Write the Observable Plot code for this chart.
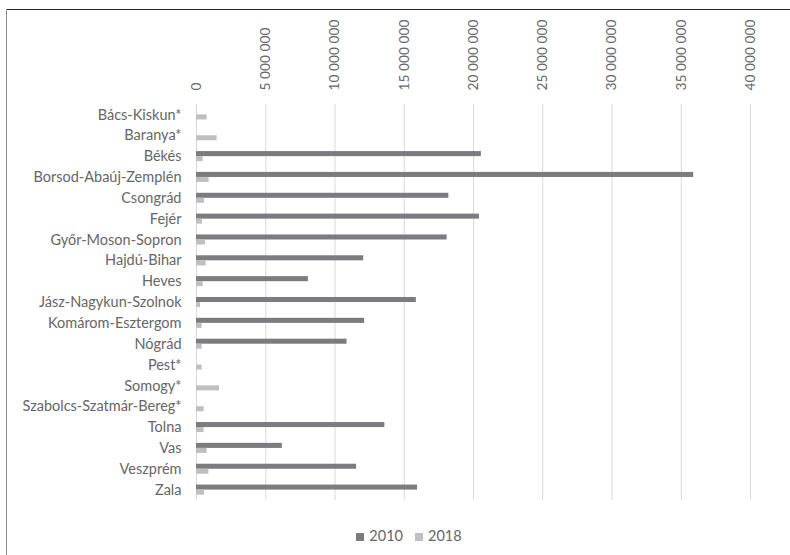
<!DOCTYPE html>
<html><head><meta charset="utf-8">
<script src="https://cdn.jsdelivr.net/npm/d3@7"></script>
<script src="https://cdn.jsdelivr.net/npm/@observablehq/plot@0.6"></script>
<style>
body{margin:0;background:#fff;}
#wrap{position:relative;width:790px;height:555px;overflow:hidden;font-family:Lato,sans-serif;background:#fff;}
#chart svg{position:absolute;left:0;top:0;}
.ft{position:absolute;left:6px;top:9px;right:0;height:1px;background:#262626;}
.fl{position:absolute;left:6px;top:9px;bottom:0;width:1px;background:#8c8c8c;}
#legend{position:absolute;top:527px;left:14px;width:790px;text-align:center;font-size:14.5px;color:#666;white-space:nowrap;}
#legend span.sw{display:inline-block;width:8px;height:8px;margin-right:5px;vertical-align:0px;}
#legend span.it{margin:0 6px;}
</style></head>
<body>
<div id="wrap"><div id="chart"></div><div class="ft"></div><div class="fl"></div><div id="legend"></div></div>
<script>
const counties = ["Bács-Kiskun*","Baranya*","Békés","Borsod-Abaúj-Zemplén","Csongrád","Fejér","Győr-Moson-Sopron","Hajdú-Bihar","Heves","Jász-Nagykun-Szolnok","Komárom-Esztergom","Nógrád","Pest*","Somogy*","Szabolcs-Szatmár-Bereg*","Tolna","Vas","Veszprém","Zala"];
const v2010 = [null,null,20570000,35900000,18220000,20430000,18100000,12070000,8080000,15870000,12140000,10870000,null,null,null,13600000,6200000,11560000,15960000];
const v2018 = [770000,1490000,480000,910000,580000,430000,650000,700000,480000,290000,410000,410000,410000,1660000,550000,550000,770000,890000,580000];
const years = ["2010","2018"];
const colors = ["#7b7c7f","#bfbfbf"];
const xTicks = [0,5000000,10000000,15000000,20000000,25000000,30000000,35000000,40000000];

const d2010 = counties.map((c,i)=>({county:c, value:v2010[i]})).filter(d=>d.value!=null);
const d2018 = counties.map((c,i)=>({county:c, value:v2018[i]})).filter(d=>d.value!=null);
const fmt = d => d3.format(",")(d).replace(/,/g," ");

const chart = Plot.plot({
  width:790, height:518,
  marginTop:104, marginBottom:18, marginLeft:196, marginRight:40,
  style:{fontFamily:"Lato, sans-serif", fontSize:"14.5px", color:"#666", background:"transparent"},
  x:{domain:[0,40000000], label:null},
  y:{domain:counties, padding:0, round:false, label:null},
  marks:[
    Plot.gridX(xTicks,{stroke:"#d9d9d9", strokeOpacity:1, strokeWidth:1}),
    Plot.barX(d2010,{x:"value", y:"county", fill:colors[0], insetTop:5.4, insetBottom:10.4}),
    Plot.barX(d2018,{x:"value", y:"county", fill:colors[1], insetTop:10.4, insetBottom:5.4}),
    Plot.axisX({anchor:"top", ticks:xTicks, tickRotate:-90, tickSize:0, tickPadding:14, tickFormat:fmt, label:null, fill:"#666", fontSize:13.8}),
    Plot.axisY({tickSize:0, tickPadding:15, label:null, fill:"#666", fontSize:14.5})
  ]
});
document.getElementById("chart").appendChild(chart);

const leg = document.getElementById("legend");
years.forEach((y,i)=>{
  const it = document.createElement("span"); it.className="it";
  const sw = document.createElement("span"); sw.className="sw"; sw.style.background=colors[i];
  it.appendChild(sw); it.appendChild(document.createTextNode(y));
  leg.appendChild(it);
});
</script>
</body></html>
